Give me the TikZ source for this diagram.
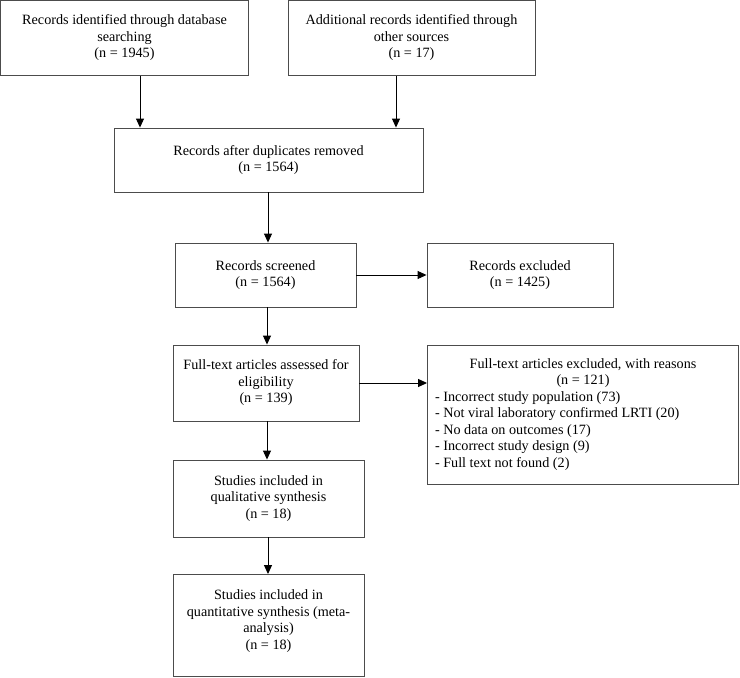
\documentclass[tikz,border=0pt]{standalone}
\usepackage{fontspec}
\setmainfont{Liberation Serif}
\usetikzlibrary{arrows.meta}
\begin{document}
\begin{tikzpicture}[x=1pt,y=-1pt,
  box/.style={draw=black!70, line width=0.9pt, align=center, inner sep=0pt,
    font=\fontsize{14.2}{16.5}\selectfont},
  arr/.style={-{Triangle[length=9pt,width=8pt]}, line width=1pt, black}]
\useasboundingbox (0,0) rectangle (740,678);
\node[box, minimum width=248pt, minimum height=75pt] (A) at (124.5,38)
  {Records identified through database\\searching\\(n = 1945)};
\node[box, minimum width=247pt, minimum height=75pt] (B) at (411.5,38)
  {Additional records identified through\\other sources\\(n = 17)};
\node[box, minimum width=309pt, minimum height=64pt] (C) at (268.5,160)
  {Records after duplicates removed\\(n = 1564)};
\node[box, minimum width=181pt, minimum height=64pt] (D) at (265.5,275)
  {Records screened\\(n = 1564)};
\node[box, minimum width=186pt, minimum height=64pt] (E) at (520,275)
  {Records excluded\\(n = 1425)};
\node[box, minimum width=186pt, minimum height=76pt] (F) at (266,383)
  {Full-text articles assessed for\\eligibility\\(n = 139)};
\node[draw=black!70, line width=0.9pt, inner sep=0pt, minimum width=311pt, minimum height=139pt,
  font=\fontsize{14.2}{16.5}\selectfont] (G) at (583,414.5)
  {\begin{minipage}{296pt}\centering Full-text articles excluded, with reasons\\(n = 121)\par
   \raggedright - Incorrect study population (73)\\
   - Not viral laboratory confirmed LRTI (20)\\
   - No data on outcomes (17)\\
   - Incorrect study design (9)\\
   - Full text not found (2)\end{minipage}};
\node[box, minimum width=191pt, minimum height=77pt] (H) at (268.5,498.5)
  {Studies included in\\qualitative synthesis\\(n = 18)};
\node[box, minimum width=191pt, minimum height=102pt] (I) at (268.5,625.5)
  {Studies included in\\quantitative synthesis (meta-\\analysis)\\(n = 18)\\[-4.5pt]};
\draw[arr] (A.south -| 140,0) -- (C.north -| 140,0);
\draw[arr] (B.south -| 396,0) -- (C.north -| 396,0);
\draw[arr] (C.south -| 268,0) -- (D.north -| 268,0);
\draw[arr] (D.south -| 267,0) -- (F.north -| 267,0);
\draw[arr] (F.south -| 267,0) -- (H.north -| 267,0);
\draw[arr] (H.south -| 268,0) -- (I.north -| 268,0);
\draw[arr] (D.east) -- (E.west);
\draw[arr] (F.east) -- (G.west |- F.east);
\end{tikzpicture}
\end{document}
